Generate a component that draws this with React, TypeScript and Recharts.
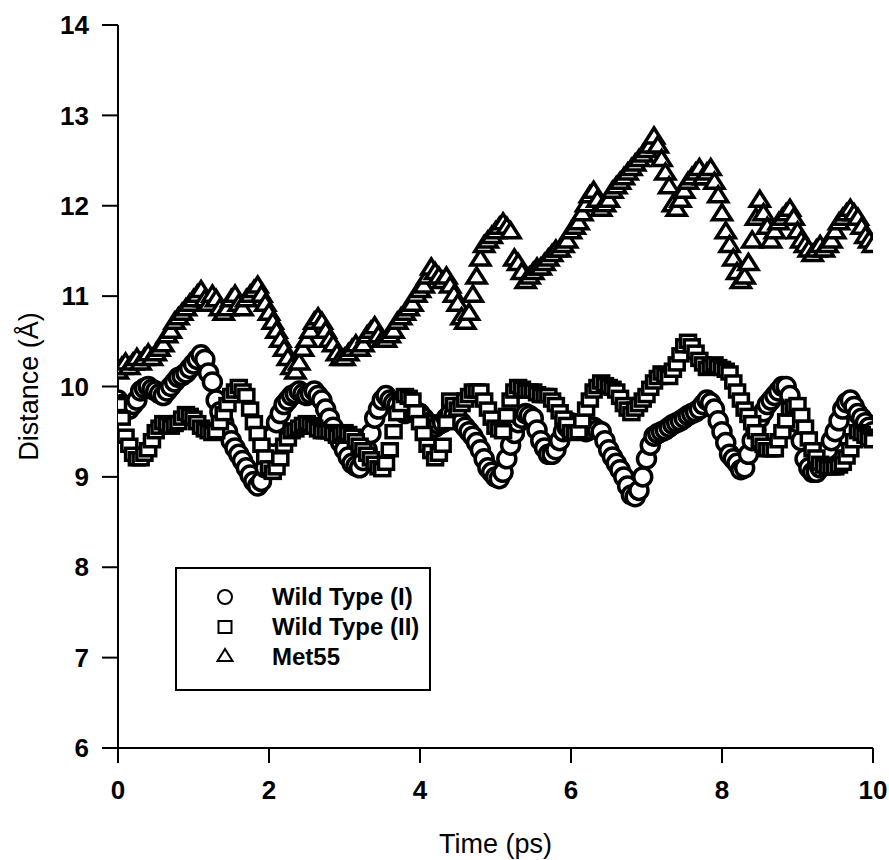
import { ScatterChart, Scatter, XAxis, YAxis, Legend } from "recharts";

// sampling step of the trajectories (ps)
const STEP = 0.05;

const wildType1 = [
  9.85, 9.8, 9.75, 9.75, 9.8, 9.85, 9.95, 9.98, 10.0, 9.97, 9.95, 9.92, 9.9, 9.95, 10.0, 10.05, 10.1, 10.12, 10.15, 10.2,
  10.25, 10.3, 10.35, 10.3, 10.15, 10.05, 9.85, 9.72, 9.6, 9.5, 9.4, 9.32, 9.25, 9.18, 9.1, 9.02, 8.95, 8.9, 8.95, 9.1,
  9.3, 9.45, 9.6, 9.7, 9.8, 9.85, 9.9, 9.92, 9.95, 9.92, 9.9, 9.92, 9.95, 9.9, 9.85, 9.75, 9.65, 9.55, 9.45, 9.38,
  9.3, 9.22, 9.15, 9.12, 9.1, 9.18, 9.3, 9.48, 9.65, 9.75, 9.85, 9.9, 9.85, 9.82, 9.8, 9.75, 9.7, 9.72, 9.75, 9.72,
  9.7, 9.65, 9.6, 9.58, 9.55, 9.58, 9.6, 9.65, 9.7, 9.68, 9.65, 9.6, 9.55, 9.5, 9.45, 9.38, 9.3, 9.2, 9.1, 9.05,
  9.0, 8.98, 9.05, 9.2, 9.35, 9.48, 9.6, 9.65, 9.7, 9.68, 9.65, 9.52, 9.4, 9.32, 9.25, 9.25, 9.3, 9.4, 9.5, 9.55,
  9.6, 9.58, 9.55, 9.52, 9.5, 9.52, 9.55, 9.52, 9.5, 9.4, 9.3, 9.22, 9.15, 9.08, 9.0, 8.9, 8.8, 8.78, 8.85, 9.0,
  9.2, 9.35, 9.45, 9.48, 9.5, 9.52, 9.55, 9.58, 9.6, 9.62, 9.65, 9.68, 9.7, 9.72, 9.75, 9.8, 9.85, 9.82, 9.75, 9.62,
  9.5, 9.38, 9.25, 9.2, 9.15, 9.08, 9.1, 9.25, 9.4, 9.52, 9.65, 9.72, 9.8, 9.85, 9.9, 9.95, 10.0, 10.0, 9.9, 9.75,
  9.6, 9.4, 9.2, 9.1, 9.05, 9.05, 9.1, 9.2, 9.3, 9.4, 9.5, 9.62, 9.75, 9.82, 9.85, 9.78, 9.7, 9.65, 9.6, 9.55,
  9.5,
];

const wildType2 = [
  9.8, 9.65, 9.45, 9.35, 9.25, 9.2, 9.2, 9.25, 9.3, 9.4, 9.5, 9.55, 9.6, 9.58, 9.55, 9.58, 9.6, 9.65, 9.7, 9.68,
  9.65, 9.6, 9.55, 9.52, 9.5, 9.48, 9.5, 9.6, 9.7, 9.8, 9.9, 9.95, 10.0, 9.95, 9.9, 9.75, 9.6, 9.48, 9.35, 9.22,
  9.1, 9.05, 9.1, 9.2, 9.35, 9.42, 9.5, 9.52, 9.55, 9.58, 9.6, 9.58, 9.55, 9.52, 9.5, 9.5, 9.5, 9.48, 9.45, 9.48,
  9.5, 9.48, 9.45, 9.4, 9.35, 9.3, 9.25, 9.2, 9.15, 9.1, 9.08, 9.15, 9.3, 9.5, 9.7, 9.8, 9.9, 9.88, 9.85, 9.72,
  9.6, 9.48, 9.35, 9.28, 9.2, 9.25, 9.35, 9.6, 9.85, 9.8, 9.75, 9.8, 9.85, 9.9, 9.95, 9.95, 9.95, 9.85, 9.75, 9.65,
  9.55, 9.52, 9.5, 9.68, 9.85, 9.95, 10.0, 9.98, 9.95, 9.95, 9.95, 9.92, 9.9, 9.9, 9.9, 9.85, 9.8, 9.72, 9.65, 9.58,
  9.5, 9.48, 9.5, 9.62, 9.75, 9.85, 9.95, 10.0, 10.05, 10.02, 10.0, 9.98, 9.95, 9.88, 9.8, 9.75, 9.7, 9.75, 9.8, 9.85,
  9.9, 9.98, 10.05, 10.1, 10.15, 10.12, 10.1, 10.18, 10.25, 10.35, 10.45, 10.5, 10.45, 10.38, 10.3, 10.25, 10.2, 10.22, 10.25, 10.22,
  10.2, 10.18, 10.15, 10.05, 9.95, 9.85, 9.75, 9.68, 9.6, 9.5, 9.4, 9.35, 9.3, 9.3, 9.3, 9.4, 9.5, 9.62, 9.75, 9.78,
  9.8, 9.68, 9.55, 9.42, 9.3, 9.22, 9.15, 9.12, 9.1, 9.1, 9.1, 9.12, 9.15, 9.22, 9.3, 9.4, 9.5, 9.48, 9.45, 9.42,
  9.4,
];

const met55 = [
  10.15, 10.2, 10.25, 10.2, 10.25, 10.3, 10.25, 10.3, 10.35, 10.3, 10.35, 10.4, 10.45, 10.55, 10.6, 10.7, 10.75, 10.8, 10.85, 10.9,
  10.95, 11.0, 11.05, 10.95, 10.9, 11.0, 10.95, 10.85, 10.8, 10.85, 10.95, 11.0, 10.9, 10.85, 10.95, 11.0, 11.05, 11.1, 11.0, 10.9,
  10.8, 10.7, 10.6, 10.5, 10.4, 10.3, 10.2, 10.15, 10.25, 10.4, 10.5, 10.6, 10.7, 10.75, 10.7, 10.6, 10.5, 10.45, 10.35, 10.3,
  10.3, 10.35, 10.4, 10.45, 10.4, 10.45, 10.55, 10.6, 10.65, 10.55, 10.5, 10.5, 10.55, 10.6, 10.7, 10.75, 10.8, 10.85, 10.9, 11.0,
  11.05, 11.1, 11.2, 11.3, 11.25, 11.2, 11.15, 11.2, 11.1, 11.0, 10.9, 10.75, 10.7, 10.8, 11.0, 11.2, 11.4, 11.55, 11.6, 11.65,
  11.7, 11.75, 11.8, 11.75, 11.7, 11.4, 11.35, 11.25, 11.15, 11.2, 11.25, 11.3, 11.3, 11.35, 11.4, 11.45, 11.5, 11.5, 11.55, 11.6,
  11.7, 11.75, 11.8, 11.9, 12.0, 12.1, 12.15, 12.05, 11.95, 12.0, 12.05, 12.15, 12.2, 12.25, 12.3, 12.35, 12.4, 12.45, 12.5, 12.55,
  12.6, 12.65, 12.75, 12.65, 12.5, 12.35, 12.2, 12.0, 11.95, 12.05, 12.15, 12.25, 12.3, 12.35, 12.4, 12.3, 12.35, 12.4, 12.25, 12.1,
  11.9, 11.7, 11.55, 11.4, 11.25, 11.15, 11.2, 11.35, 11.6, 11.85, 12.05, 11.9, 11.75, 11.6, 11.7, 11.8, 11.85, 11.9, 11.95, 11.85,
  11.7, 11.6, 11.55, 11.5, 11.45, 11.5, 11.55, 11.5, 11.55, 11.6, 11.7, 11.8, 11.85, 11.9, 11.95, 11.9, 11.85, 11.75, 11.65, 11.6,
  11.55,
];

const seriesNames = ["Wild Type (I)", "Wild Type (II)", "Met55"];
const xTicks = [0, 2, 4, 6, 8, 10];
const yTicks = [6, 7, 8, 9, 10, 11, 12, 13, 14];

const toPoints = (vals: number[]) =>
  vals.map((v, i) => ({ t: Math.round(i * STEP * 100) / 100, v }));

const FONT = "'Liberation Sans', Arial, Helvetica, sans-serif";
const ink = { stroke: "#000", strokeWidth: 2 };

const Circle = ({ cx, cy, r = 9, w = 3.5 }: any) => (
  <circle cx={cx} cy={cy} r={r} fill="#fff" stroke="#000" strokeWidth={w} />
);
const Square = ({ cx, cy, s = 15, h = 12, w = 3.5 }: any) => (
  <rect x={cx - s / 2} y={cy - h / 2} width={s} height={h} fill="#fff" stroke="#000" strokeWidth={w} />
);
const Triangle = ({ cx, cy, b = 19, h = 15, w = 3.5 }: any) => (
  <polygon
    points={`${cx},${cy - (h * 2) / 3} ${cx - b / 2},${cy + h / 3} ${cx + b / 2},${cy + h / 3}`}
    fill="#fff"
    stroke="#000"
    strokeWidth={w}
    strokeLinejoin="miter"
  />
);

const legendMarkers = [
  (cx: number, cy: number) => <Circle cx={cx} cy={cy} r={7} w={2} />,
  (cx: number, cy: number) => <Square cx={cx} cy={cy} s={13} h={12} w={2} />,
  (cx: number, cy: number) => <Triangle cx={cx} cy={cy} b={15} h={12} w={2} />,
];

const renderLegend = () => (
  <div
    style={{
      width: "100%",
      height: "100%",
      border: "2px solid #000",
      boxSizing: "border-box",
      background: "#fff",
      position: "relative",
      fontFamily: FONT,
    }}
  >
    {seriesNames.map((name, i) => (
      <div
        key={name}
        style={{
          position: "absolute",
          left: 0,
          top: 30 * (i + 1) - 17,
          height: 30,
          display: "flex",
          alignItems: "center",
        }}
      >
        <svg width={95} height={30}>
          {legendMarkers[i](48, 15)}
        </svg>
        <span style={{ fontSize: 24, fontWeight: "bold", color: "#000" }}>{name}</span>
      </div>
    ))}
  </div>
);

export default function App() {
  return (
    <div style={{ position: "absolute", left: 0, top: 0, background: "#fff" }}>
      <ScatterChart
        width={889}
        height={860}
        margin={{ top: 25, right: 16, bottom: 52, left: 10 }}
        style={{ fontFamily: FONT }}
      >
        <XAxis
          type="number"
          dataKey="t"
          domain={[0, 10]}
          ticks={xTicks}
          allowDataOverflow
          height={60}
          tickSize={15}
          tickMargin={18}
          axisLine={ink}
          tickLine={ink}
          tick={{ fill: "#000", fontSize: 26, fontWeight: "bold" }}
          label={{ value: "Time (ps)", position: "bottom", offset: 26, style: { fontSize: 27, fill: "#000" } }}
        />
        <XAxis
          xAxisId="top"
          orientation="top"
          type="number"
          domain={[0, 10]}
          height={0}
          tick={false}
          tickLine={false}
          axisLine={ink}
        />
        <YAxis
          type="number"
          dataKey="v"
          domain={[6, 14]}
          ticks={yTicks}
          allowDataOverflow
          width={108}
          tickSize={16}
          tickMargin={13}
          axisLine={ink}
          tickLine={ink}
          tick={{ fill: "#000", fontSize: 26, fontWeight: "bold" }}
          label={{
            value: "Distance (Å)",
            angle: -90,
            position: "insideLeft",
            offset: 18,
            style: { textAnchor: "middle", fontSize: 27, fill: "#000" },
          }}
        />
        <YAxis
          yAxisId="right"
          orientation="right"
          type="number"
          domain={[6, 14]}
          width={0}
          tick={false}
          tickLine={false}
          axisLine={ink}
        />
        <Legend
          layout="vertical"
          align="center"
          verticalAlign="middle"
          wrapperStyle={{ left: 175, top: 567, width: 256, height: 124 }}
          content={renderLegend}
        />
        <Scatter
          name={seriesNames[0]}
          data={toPoints(wildType1)}
          isAnimationActive={false}
          shape={(p: any) => <Circle cx={p.cx} cy={p.cy} />}
        />
        <Scatter
          name={seriesNames[1]}
          data={toPoints(wildType2)}
          isAnimationActive={false}
          shape={(p: any) => <Square cx={p.cx} cy={p.cy} />}
        />
        <Scatter
          name={seriesNames[2]}
          data={toPoints(met55)}
          isAnimationActive={false}
          shape={(p: any) => <Triangle cx={p.cx} cy={p.cy} />}
        />
      </ScatterChart>
    </div>
  );
}
